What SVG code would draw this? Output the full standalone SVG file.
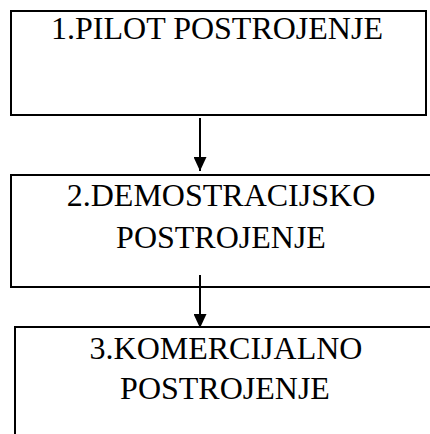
<svg xmlns="http://www.w3.org/2000/svg" width="430" height="434" viewBox="0 0 430 434">
<defs>
<style>
.box{fill:none;stroke:#000;stroke-width:2}
.t{font-family:"Liberation Serif","Times New Roman",serif;font-size:32px;fill:#000;text-anchor:middle}
.c{stroke:#000;stroke-width:2;fill:none}
</style>
<marker id="ah" markerWidth="14" markerHeight="13" refX="14" refY="6.5" orient="auto" markerUnits="userSpaceOnUse" viewBox="0 0 14 13">
<path d="M0,0 L14,6.5 L0,13 Z" fill="#000"/>
</marker>
</defs>
<rect width="430" height="434" fill="#fff"/>
<g id="node1">
<rect class="box" x="11" y="11" width="415" height="104"/>
<text class="t" x="217" y="39">1.PILOT POSTROJENJE</text>
</g>
<g id="node2">
<path class="box" d="M432,175 H11 V287 H432"/>
<text class="t" x="221" y="206">2.DEMOSTRACIJSKO</text>
<text class="t" x="221" y="248">POSTROJENJE</text>
</g>
<g id="node3">
<path class="box" d="M432,327 H15 V436"/>
<text class="t" x="226" y="359">3.KOMERCIJALNO</text>
<text class="t" x="225" y="399">POSTROJENJE</text>
</g>
<g id="connectors">
<line class="c" x1="200" y1="118" x2="200" y2="171" marker-end="url(#ah)"/>
<line class="c" x1="200" y1="275" x2="200" y2="328" marker-end="url(#ah)"/>
</g>
</svg>
